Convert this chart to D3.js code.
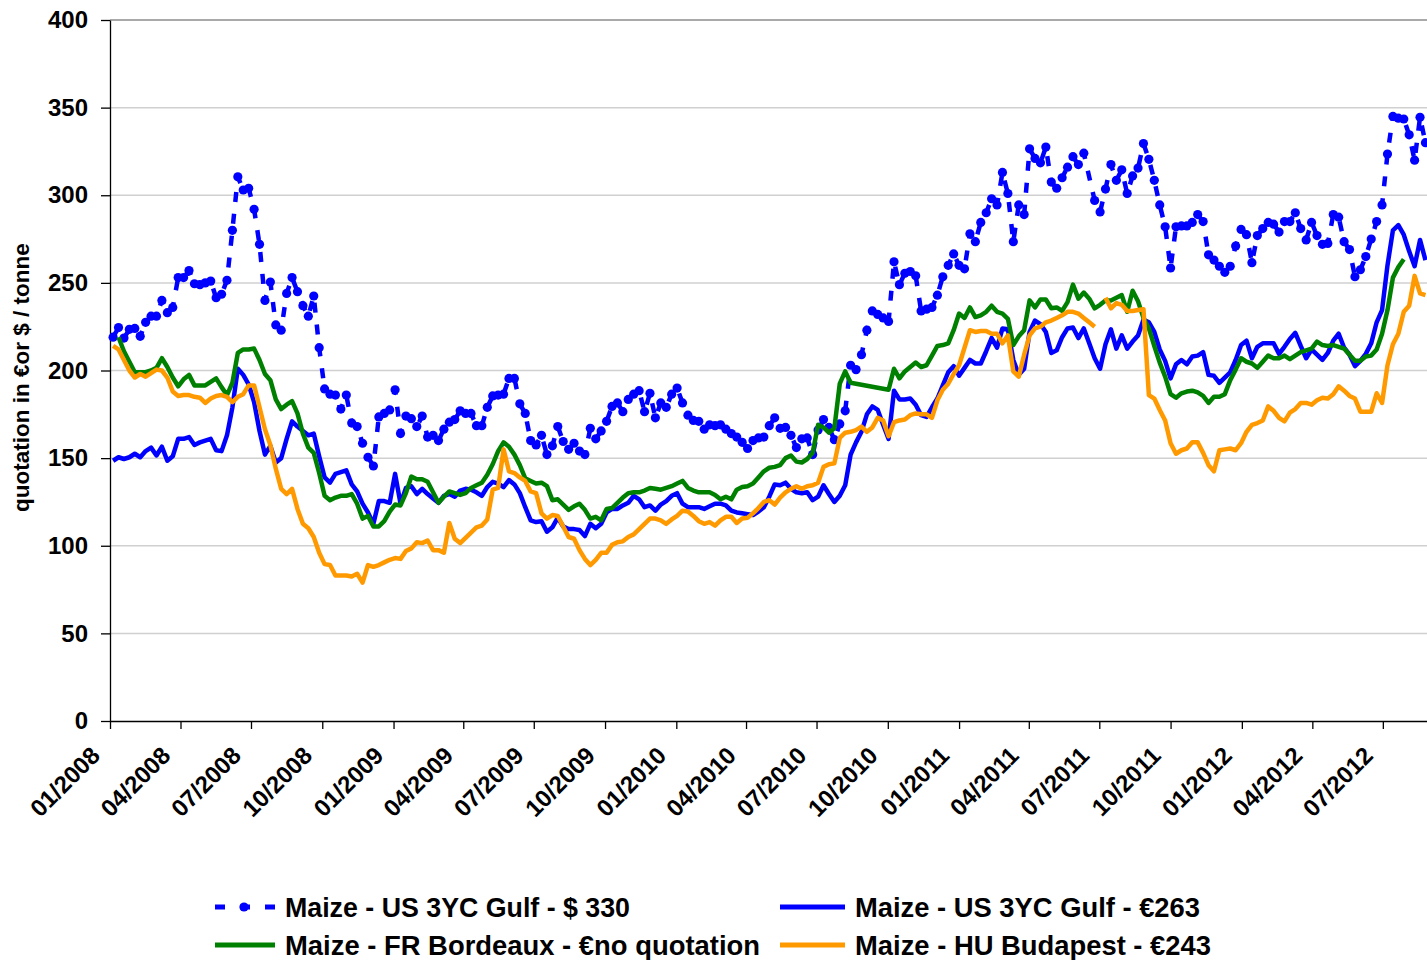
<!DOCTYPE html>
<html>
<head>
<meta charset="utf-8">
<script src="https://cdn.jsdelivr.net/npm/d3@7"></script>
<style>
  body { margin: 0; background: #fff; }
  text { font-family: "Liberation Sans", Arial, sans-serif; font-weight: bold; fill: #000; }
</style>
</head>
<body>
<div id="chart"></div>
<script>
// weekly maize quotations, first quote of the series
const firstWeek = "2008-01-05";

const usGulfUsd = [
  219, 224.5, 218.5, 223.5, 224, 219.5, 227.5, 231, 231, 240,
  233, 236, 253, 253, 257, 249.5, 249, 250, 251, 241.5,
  243.5, 251.5, 280, 310.5, 303, 304, 292, 272, 240, 250.5,
  226, 223, 244, 253, 245, 237, 231, 242.5, 213, 189.5,
  186.5, 186, 178, 186, 170, 168, 158.5, 150.5, 145.5, 173.5,
  175.5, 177.5, 189, 164, 174, 172.5, 168, 174, 162, 163,
  160, 166.5, 170.5, 172, 177, 175.5, 175.5, 168.5, 168.5, 179,
  185.5, 186, 186.5, 195.5, 195.5, 181, 175.5, 160, 157.5, 163,
  152, 157, 168, 159.5, 155, 158.5, 154, 152, 167, 161,
  165.5, 171, 179.5, 181.5, 176.5, 183.5, 186.5, 188.5, 176.5, 187,
  173, 181.5, 179, 186.5, 190, 181.5, 174.5, 171.5, 171, 166.5,
  169, 168.5, 169, 166.5, 164, 162, 159, 155.5, 160, 161.5,
  162, 168.5, 173, 167, 167.5, 163, 156, 161, 161.5, 152,
  166, 172, 167.5, 160.5, 169.5, 177, 203, 200.5, 209, 223,
  234, 232, 230, 228, 262, 249, 255.5, 256.5, 254, 234,
  235, 236, 243, 253.5, 260, 266.5, 260, 258, 278, 273.5,
  284.5, 290, 298, 294.5, 313, 301, 273.5, 294.5, 289, 326.5,
  321, 318.5, 327.5, 307.5, 304, 310, 316, 322, 317.5, 324,
  null, 297, 290.5, 303.5, 317.5, 308.5, 314.5, 301, 311, 315.5,
  329.5, 320.5, 308.5, 294.5, 282, 258.5, 282, 282.5, 282.5, 284.5,
  289, 285, 266, 263, 259.5, 256, 259.5, 271, 280.5, 277.5,
  261.5, 277, 281, 284.5, 283.5, 279, 285, 285, 290, 281,
  274.5, 284.5, 277, 272, 272.5, 289, 287.5, 273.5, 269, 253.5,
  257.5, 265, 275, 285, 294.5, 323.5, 345, 344, 343.5, 334.5,
  320, 344.5, 330
];

const usGulfEur = [
  148.5, 150.5, 149.5, 150.5, 152.5, 150.5, 154, 156, 151.5, 156.5,
  148.5, 151, 161, 161, 162, 157.5, 159, 160, 161, 154.5,
  154, 163, 179, 201, 197.5, 192, 182, 165.5, 152, 157,
  147.5, 150, 161, 171, 168, 165.5, 163, 164, 151, 139,
  136, 141, 142, 143, 135, 131, 124, 119, 112.5, 125.5,
  125.5, 124.5, 141, 124, 133, 134, 129.5, 132.5, 129.5, 127,
  124.5, 128.5, 129.5, 128, 131.5, 132.5, 132, 130.5, 128.5, 133.5,
  136.5, 135.5, 133.5, 137.5, 135, 130, 122, 114.5, 113.5, 114,
  108, 110.5, 116, 111, 109.5, 109.5, 109, 105.5, 112.5, 110,
  112.5, 119, 121, 121, 123, 124.5, 128.5, 126.5, 122, 123,
  120, 123.5, 125.5, 128.5, 130, 124, 122, 122, 122, 121,
  122.5, 124, 124, 123, 120, 119, 118.5, 118, 117.5, 119.5,
  122, 128, 135, 134.5, 136, 132.5, 130.5, 130, 130.5, 126,
  128, 134.5, 129.5, 125, 128.5, 134.5, 152, 159, 165, 175,
  179.5, 177.5, 169, 161, 188.5, 183.5, 183.5, 184, 180.5, 174.5,
  173.5, 179, 184, 191.5, 199, 202.5, 197, 201.5, 206, 204,
  204, 211, 218.5, 213, 224, 223.5, 206, 197.5, 201, 222,
  228.5, 226.5, 222, 210, 211.5, 219, 224, 224.5, 218.5, 224,
  215.5, 207, 201, 215, 223.5, 212.5, 220, 212.5, 216.5, 220,
  229, 227.5, 222, 212, 205.5, 195.5, 203.5, 206, 203.5, 208,
  208.5, 210.5, 197.5, 197, 193, 196, 199, 206, 214.5, 217,
  207, 213.5, 215.5, 215.5, 215.5, 209.5, 213.5, 218, 221.5, 214,
  207, 212, 209, 206, 210, 217, 221, 213, 209, 202.5,
  205.5, 209.5, 215.5, 227.5, 234.5, 260, 280, 283, 277.5, 268,
  259.5, 274.5, 263
];

const frBordeaux = [
  null, 219, 211, 205, 199, 199, 199, 200, 201.5, 207,
  202, 196, 191, 195, 197.5, 191.5, 191.5, 191.5, 193.5, 195.5,
  190.5, 186, 193, 210, 212, 212, 212.5, 206, 198, 194.5,
  183.5, 178, 180.5, 182.5, 175.5, 164, 156, 153, 141.5, 128.5,
  126, 127.5, 128.5, 128.5, 129.5, 124, 115.5, 117, 111, 111,
  114, 119.5, 123.5, 123, 130, 139.5, 138, 138, 136.5, 130.5,
  124.5, 128, 131, 130, 129, 130, 133, 134.5, 136, 140.5,
  146.5, 154, 159, 156.5, 152, 146, 138.5, 137, 135.5, 136,
  134, 126, 126.5, 123.5, 120.5, 122.5, 124, 120.5, 115.5, 116.5,
  114.5, 121, 121.5, 124.5, 127.5, 130, 130.5, 130.5, 131.5, 133,
  132.5, 132, 133, 134, 135.5, 137, 133, 131.5, 130.5, 130.5,
  130.5, 129, 126.5, 128, 126.5, 132, 133.5, 134, 135.5, 139,
  142.5, 144.5, 145, 146, 150, 151.5, 148, 147.5, 149.5, 153,
  169, 167.5, 164.5, 167, 192.5, 199.5, 193, null, null, null,
  null, null, null, 189, 201, 195.5, 199.5, 202, 204.5, 202,
  203, 208.5, 214, 214.5, 215.5, 223, 232.5, 230, 236, 230.5,
  231.5, 233.5, 237, 233.5, 232.5, 229.5, 214.5, 219.5, 223, 240,
  236, 240.5, 240.5, 235.5, 236, 234, 239, 249, 241, 244.5,
  241, 235.5, 237.5, 240, 240, 241.5, 243, 233.5, 245.5, 239.5,
  230, 224, 214, 204.5, 196.5, 186.5, 184.5, 187, 188, 188.5,
  187.5, 185.5, 181.5, 185, 185, 186.5, 194.5, 200.5, 207, 205,
  204, 201.5, 205, 208.5, 207, 207, 208.5, 206.5, 208.5, 210.5,
  211.5, 212.5, 216.5, 214.5, 214, 214.5, 213.5, 212.5, 209, 205.5,
  205.5, 208, 208.5, 212, 221, 234.5, 253, 259, 263.5, null,
  null, null, null
];

const huBudapest = [
  214, 212, 206, 200, 196, 198, 196.5, 198.5, 200.5, 200,
  196, 188, 185.5, 186, 186, 185, 184.5, 181.5, 184, 185.5,
  186, 185, 182, 185, 186.5, 191.5, 191.5, 179, 166.5, 157.5,
  144, 132.5, 129.5, 132.5, 121, 112.5, 110, 105, 96, 89.5,
  89, 83, 83, 83, 82.5, 84, 79, 89, 88, 89,
  90.5, 92, 93, 92.5, 97, 98.5, 102, 101.5, 103, 97.5,
  97.5, 96, 113, 104, 101.5, 104.5, 107.5, 110.5, 111.5, 115,
  132, 133, 155, 142.5, 141.5, 139, 137, 131, 130, 118.5,
  115.5, 117.5, 117, 111, 105, 104, 97.5, 92.5, 89, 92,
  96, 96, 100.5, 102, 102.5, 105, 106.5, 109.5, 112.5, 115.5,
  115.5, 114.5, 112.5, 115, 117, 120, 119.5, 117, 114, 112.5,
  113.5, 111.5, 114.5, 116.5, 116.5, 113, 115.5, 116, 118.5, 121.5,
  125, 126, 123.5, 127.5, 130.5, 132.5, 134, 132.5, 134, 134.5,
  136, 145, 146.5, 147, 161.5, 164.5, 165, 166, 168, 165,
  167.5, 173, 171.5, 162.5, 170.5, 171.5, 172, 174.5, 175.5, 175,
  175, 173, 183, 189, 192.5, 198, 203, 213, 223, 222,
  222.5, 222.5, 221, 221, 215.5, 220, 199.5, 196.5, 209, 220,
  224, 225, 227.5, 228.5, 230, 231.5, 233.5, 233.5, 232.5, 230,
  227.5, 225, null, 241.5, 235.5, 238.5, 237.5, 234, 234, 234.5,
  235, 186, 184, 177.5, 171.5, 158.5, 152.5, 154.5, 155.5, 159,
  159, 153, 146, 142.5, 154.5, 155, 155.5, 154.5, 158.5, 165,
  169, 170, 171.5, 179.5, 177, 173, 171, 176, 178, 181.5,
  181.5, 180.5, 183, 184.5, 184, 186.5, 191, 188.5, 185.5, 184,
  176.5, 176.5, 176.5, 187, 181.5, 203, 215, 221, 233.5, 237,
  254, 244, 243
];

const seriesLabels = [
  "Maize - US 3YC Gulf - $ 330",
  "Maize - US 3YC Gulf - €263",
  "Maize - FR Bordeaux - €no quotation",
  "Maize - HU Budapest - €243"
];
const yTicks = [0, 50, 100, 150, 200, 250, 300, 350, 400];
const xTickFormat = "%m/%Y";
const yTitle = "quotation in €or $ / tonne";

const width = 1427, height = 960;
const margin = { top: 20, right: 0, bottom: 239, left: 110 };

const svg = d3.select("#chart")
  .append("svg")
    .attr("width", width)
    .attr("height", height)
    .attr("viewBox", [0, 0, width, height]);

const parse = d3.timeParse("%Y-%m-%d");
const start = parse(firstWeek);
const weeks = usGulfUsd.map((_, i) => d3.timeDay.offset(start, 7 * i));

const xScale = d3.scaleTime()
  .domain([parse("2008-01-01"), parse("2012-08-27")])
  .range([margin.left, width - margin.right]);

const yScale = d3.scaleLinear()
  .domain([0, 400])
  .range([height - margin.bottom, margin.top]);

// gridlines
svg.append("g")
  .selectAll("line")
  .data(yTicks.filter(d => d > 0))
  .join("line")
    .attr("x1", margin.left)
    .attr("x2", width)
    .attr("y1", d => yScale(d))
    .attr("y2", d => yScale(d))
    .attr("stroke", d => d === 400 ? "#8c8c8c" : "#d0d0d0")
    .attr("stroke-width", 1.5);

// axes
const yAxis = svg.append("g")
  .attr("transform", `translate(${margin.left}, 0)`)
  .call(d3.axisLeft(yScale).tickValues(yTicks).tickSize(9).tickSizeOuter(0).tickPadding(13));
yAxis.selectAll("text").attr("font-size", "24px");

const xAxis = svg.append("g")
  .attr("transform", `translate(0, ${height - margin.bottom})`)
  .call(d3.axisBottom(xScale)
    .ticks(d3.timeMonth.every(3))
    .tickSize(8)
    .tickSizeOuter(0)
    .tickFormat(d3.timeFormat(xTickFormat)));
xAxis.selectAll("text")
  .attr("font-size", "24px")
  .attr("text-anchor", "end")
  .attr("x", 0).attr("y", 0).attr("dy", 0)
  .attr("transform", "translate(-9, 36) rotate(-45)");

svg.selectAll(".domain, .tick line")
  .attr("stroke", "#000")
  .attr("stroke-width", 1.3);
svg.selectAll(".tick text").style("font-family", '"Liberation Sans", Arial, sans-serif').style("font-weight", "bold");

// y title
svg.append("text")
  .attr("transform", `translate(29, ${(margin.top + height - margin.bottom) / 2 + 7}) rotate(-90)`)
  .attr("text-anchor", "middle")
  .attr("font-size", "22.5px")
  .text(yTitle);

// series
const series = [
  { values: usGulfUsd, color: "#0000ff", dash: "10,12", markers: true, connect: true },
  { values: usGulfEur, color: "#0000ff", dash: null, markers: false, connect: true },
  { values: frBordeaux, color: "#008000", dash: null, markers: false, connect: true },
  { values: huBudapest, color: "#ff9900", dash: null, markers: false, connect: false }
];

const line = d3.line()
  .defined(d => d.v !== null)
  .x(d => xScale(d.date))
  .y(d => yScale(d.v));

series.forEach(s => {
  let pts = s.values.map((v, i) => ({ date: weeks[i], v: v }));
  if (s.connect) pts = pts.filter(d => d.v !== null);
  svg.append("path")
    .datum(pts)
    .attr("fill", "none")
    .attr("stroke", s.color)
    .attr("stroke-width", 4.5)
    .attr("stroke-linejoin", "round")
    .attr("stroke-dasharray", s.dash)
    .attr("d", line);
  if (s.markers) {
    svg.append("g")
      .selectAll("circle")
      .data(pts)
      .join("circle")
        .attr("cx", d => xScale(d.date))
        .attr("cy", d => yScale(d.v))
        .attr("r", 4.6)
        .attr("fill", s.color);
  }
});

// legend
const legendPos = [
  { x: 215, y: 907, w: 60, tl: 345 },
  { x: 780, y: 907, w: 65, tl: 345 },
  { x: 215, y: 945, w: 60, tl: 475 },
  { x: 780, y: 945, w: 65, tl: 356 }
];
const legend = svg.append("g");
series.forEach((s, i) => {
  const p = legendPos[i];
  legend.append("line")
    .attr("x1", p.x).attr("x2", p.x + p.w)
    .attr("y1", p.y).attr("y2", p.y)
    .attr("stroke", s.color)
    .attr("stroke-width", 5)
    .attr("stroke-dasharray", s.dash ? "10,15" : null);
  if (s.markers) {
    legend.append("circle")
      .attr("cx", p.x + p.w / 2 - 1).attr("cy", p.y)
      .attr("r", 4.6).attr("fill", s.color);
  }
  legend.append("text")
    .attr("x", p.x + p.w + 10)
    .attr("y", p.y + 10)
    .attr("font-size", "27px")
    .attr("textLength", p.tl)
    .attr("lengthAdjust", "spacingAndGlyphs")
    .text(seriesLabels[i]);
});
</script>
</body>
</html>
